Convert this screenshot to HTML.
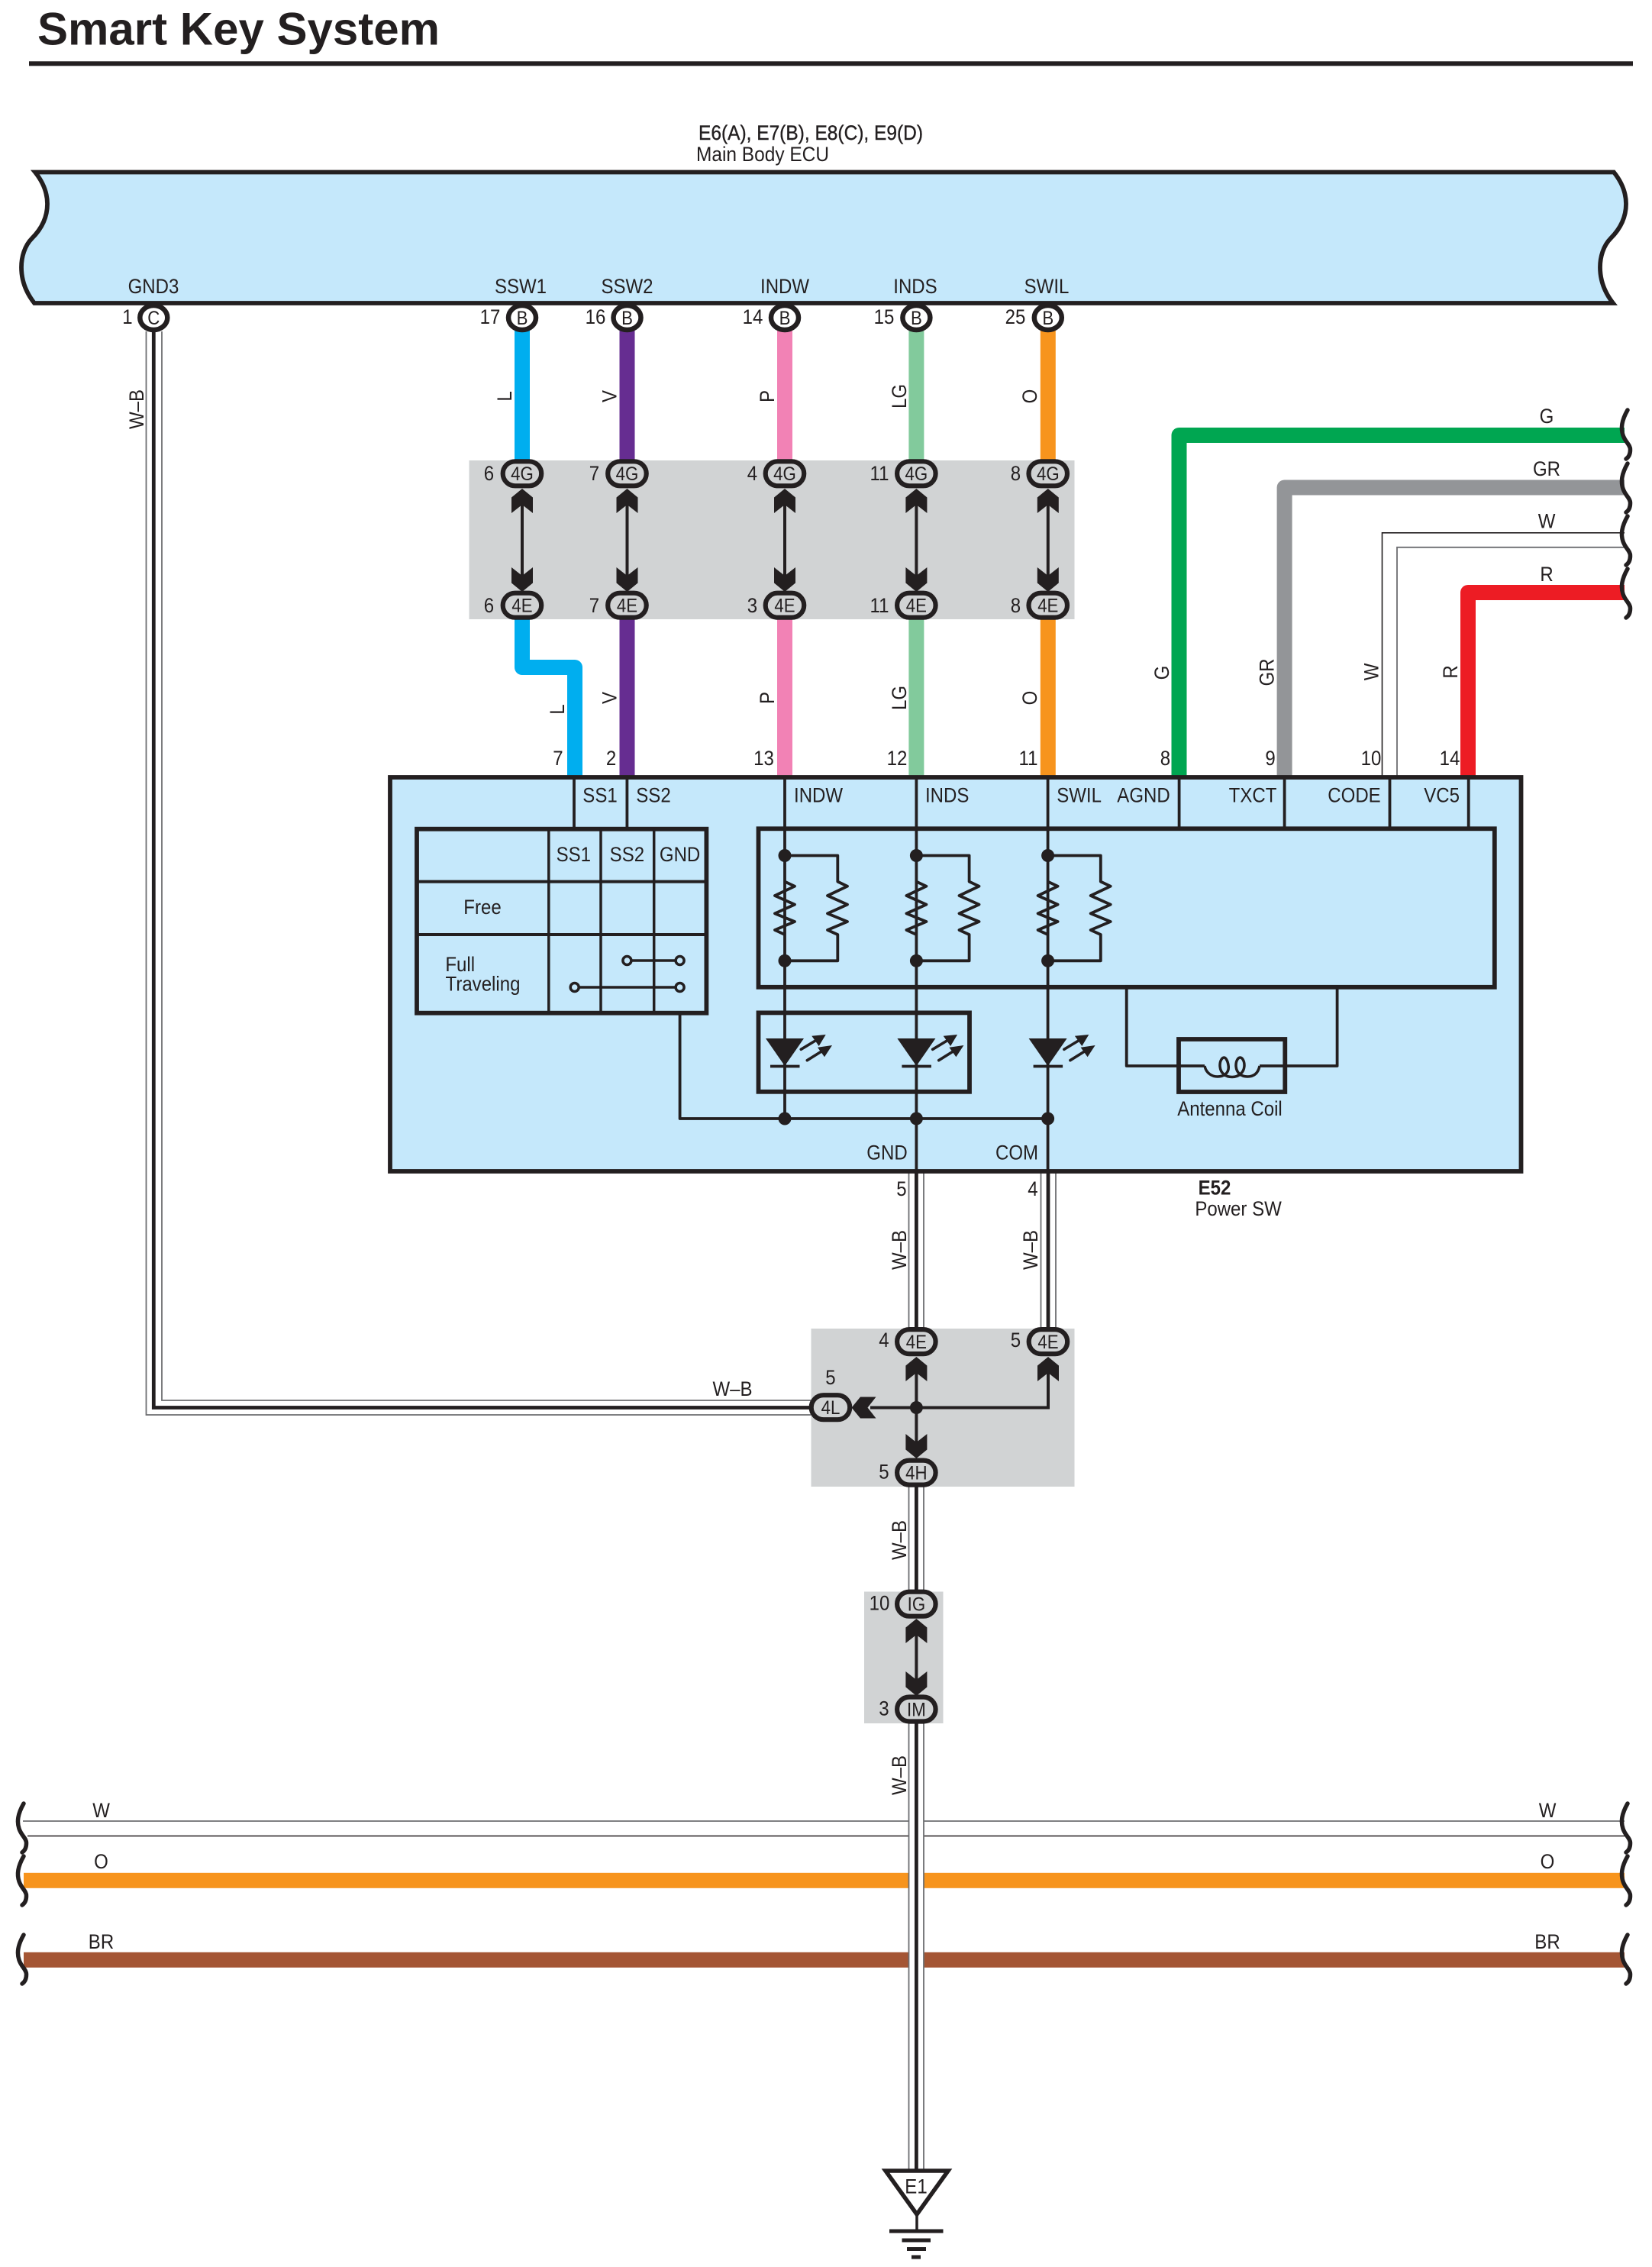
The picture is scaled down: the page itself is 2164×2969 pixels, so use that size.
<!DOCTYPE html>
<html><head><meta charset="utf-8"><title>Smart Key System</title>
<style>
html,body{margin:0;padding:0;background:#fff}
svg{display:block}
text{font-family:"Liberation Sans",sans-serif;font-size:27px;fill:#231f20;text-anchor:middle}
.t text,text.t{transform-box:fill-box;transform-origin:center;transform:scaleX(.89)}
.n text{font-size:25px}
.w{fill:none;stroke-width:20;stroke-linejoin:round}
.k{fill:none;stroke:#231f20;stroke-width:3.8;stroke-linejoin:round}
.b{fill:none;stroke:#231f20;stroke-width:5.8;stroke-linejoin:miter}
.c{fill:#d1d3d4;stroke:#231f20;stroke-width:6.2}
.d{fill:#231f20}
.o{fill:none;stroke:#6d6e71;stroke-width:1.8}
.m{fill:none;stroke:#231f20;stroke-width:4.8}
</style></head>
<body>
<svg xmlns="http://www.w3.org/2000/svg" width="2164" height="2969" viewBox="0 0 2164 2969">
<defs>
<path id="au" d="M0,0L14,11.5V32L0,21L-14,32V11.5Z" fill="#231f20"/>
<path id="sq" d="M2132,0C2124,14 2123,24 2126,33C2129,42 2136,46 2135.5,52C2135.5,58 2133,62 2130,64" fill="none" stroke="#231f20" stroke-width="5.5" stroke-linecap="round"/>
<g id="ledarrows">
<path d="M21.3,1374.3L40,1363M29.3,1388.7L48,1377" stroke="#231f20" stroke-width="3.6" stroke-linecap="round" fill="none"/>
<path d="M53.7,1355L35.3,1356.7L44.7,1370ZM62,1369L43,1371.7L52,1384.3Z" fill="#231f20"/>
</g>
</defs>

<!-- title -->
<text x="312.5" y="58.5" style="font-size:60px;font-weight:bold" textLength="527" lengthAdjust="spacingAndGlyphs">Smart Key System</text>
<rect x="38" y="80.3" width="2101" height="6" fill="#231f20"/>

<!-- ECU -->
<text x="1062" y="183" textLength="294" lengthAdjust="spacingAndGlyphs" stroke="#231f20" stroke-width=".4">E6(A), E7(B), E8(C), E9(D)</text>
<text x="999" y="211" textLength="174" lengthAdjust="spacingAndGlyphs">Main Body ECU</text>
<path d="M46,225.5H2114C2124,238 2130,252 2130,267C2130,285 2122,300 2110,312C2100,322 2096,337 2096,350C2096,368 2102,383 2113,397H45C34,383 28,368 28,350C28,337 32,322 42,312C54,300 62,285 62,267C62,252 56,238 46,225.5Z" fill="#c5e8fb" stroke="#231f20" stroke-width="5.8"/>
<g class="t">
<text x="201" y="384">GND3</text><text x="682" y="384">SSW1</text><text x="821.5" y="384">SSW2</text><text x="1028" y="384">INDW</text><text x="1199" y="384">INDS</text><text x="1371" y="384">SWIL</text>
<text x="167" y="424">1</text><text x="642" y="424">17</text><text x="780" y="424">16</text><text x="986" y="424">14</text><text x="1158" y="424">15</text><text x="1330" y="424">25</text>
</g>

<!-- gray blocks -->
<rect x="614.5" y="603" width="793" height="208" fill="#d1d3d4"/>
<rect x="1062.5" y="1740" width="345" height="207" fill="#d1d3d4"/>
<rect x="1132" y="2084.5" width="103.5" height="172.5" fill="#d1d3d4"/>

<!-- colored wires -->
<path class="w" stroke="#00aeef" d="M684,432V605"/>
<path class="w" stroke="#662d91" d="M821.5,432V605"/>
<path class="w" stroke="#f282b5" d="M1028,432V605"/>
<path class="w" stroke="#82ca9c" d="M1200.4,432V605"/>
<path class="w" stroke="#f7941d" d="M1372.8,432V605"/>
<path class="w" stroke="#00aeef" d="M684,808V874H753V1016"/>
<path class="w" stroke="#662d91" d="M821.5,808V1016"/>
<path class="w" stroke="#f282b5" d="M1028,808V1016"/>
<path class="w" stroke="#82ca9c" d="M1200.4,808V1016"/>
<path class="w" stroke="#f7941d" d="M1372.8,808V1016"/>
<path class="w" stroke="#00a651" d="M1544.5,1016V570H2128"/>
<path class="w" stroke="#939598" d="M1682.6,1016V638.5H2128"/>
<path class="w" stroke="#ed1c24" d="M1923,1016V776H2128"/>
<path d="M1810.5,1016V697.8H2128" fill="none" stroke="#231f20" stroke-width="1.6"/>
<path d="M1830,1016V716.8H2131" fill="none" stroke="#6d6e71" stroke-width="1.8"/>
<use href="#sq" y="537"/><use href="#sq" y="607"/><use href="#sq" y="676"/><use href="#sq" y="745"/>
<g class="t">
<text x="2026" y="554">G</text><text x="2026" y="623">GR</text><text x="2026" y="691.5">W</text><text x="2026" y="761">R</text>
</g>

<!-- rails -->
<path d="M30,2385H2128" class="o"/>
<path d="M36,2404.5H2133" fill="none" stroke="#231f20" stroke-width="1.5"/>
<rect x="31" y="2452.8" width="2097" height="20" fill="#f7941d"/>
<rect x="31" y="2556.8" width="2097" height="20" fill="#a45534"/>
<rect x="1191" y="2380" width="19" height="200" fill="#fff"/>
<use href="#sq" x="-2101" y="2362"/><use href="#sq" x="-2101" y="2431"/><use href="#sq" x="-2101" y="2534"/>
<use href="#sq" y="2362"/><use href="#sq" y="2431"/><use href="#sq" y="2534"/>
<g class="t">
<text x="132.5" y="2380">W</text><text x="132.5" y="2447">O</text><text x="132.5" y="2552">BR</text>
<text x="2027" y="2380">W</text><text x="2027" y="2447">O</text><text x="2027" y="2552">BR</text>
</g>

<!-- W-B wires -->
<path class="o" d="M191.5,434V1853H1062"/>
<path class="o" d="M212,434V1834H1062"/>
<path class="m" d="M201.3,434V1843.5H1062"/>
<path class="o" d="M1190.5,1534V1740M1210,1534V1740M1190.5,1946V2085M1210,1946V2085M1190.5,2257V2841M1210,2257V2841"/>
<path class="m" d="M1200.4,1534V1740M1200.4,1946V2085M1200.4,2257V2841"/>
<path class="o" d="M1363.5,1534V1740M1383,1534V1740"/>
<path class="m" d="M1373,1534V1740"/>

<!-- pin circles -->
<g fill="#fff" stroke="#231f20" stroke-width="6.5">
<ellipse cx="201.3" cy="416" rx="18" ry="16"/><ellipse cx="684" cy="416" rx="18" ry="16"/><ellipse cx="821.5" cy="416" rx="18" ry="16"/><ellipse cx="1028" cy="416" rx="18" ry="16"/><ellipse cx="1200.4" cy="416" rx="18" ry="16"/><ellipse cx="1372.8" cy="416" rx="18" ry="16"/>
</g>
<g class="t n">
<text x="201.3" y="425">C</text><text x="684" y="425">B</text><text x="821.5" y="425">B</text><text x="1028" y="425">B</text><text x="1200.4" y="425">B</text><text x="1372.8" y="425">B</text>
</g>

<!-- double-arrow links -->
<g stroke="#231f20" stroke-width="4" fill="none">
<path d="M684,650V765M821.5,650V765M1028,650V765M1200.4,650V765M1372.8,650V765"/>
<path d="M1140,1843.5H1373V1790M1200.4,1790V1900M1200.4,2130V2210"/>
</g>
<g>
<use href="#au" x="684" y="640"/><use href="#au" x="821.5" y="640"/><use href="#au" x="1028" y="640"/><use href="#au" x="1200.4" y="640"/><use href="#au" x="1372.8" y="640"/>
<use href="#au" transform="translate(684,775) scale(1,-1)"/><use href="#au" transform="translate(821.5,775) scale(1,-1)"/><use href="#au" transform="translate(1028,775) scale(1,-1)"/><use href="#au" transform="translate(1200.4,775) scale(1,-1)"/><use href="#au" transform="translate(1372.8,775) scale(1,-1)"/>
<use href="#au" x="1200.4" y="1777"/><use href="#au" x="1373" y="1777"/>
<use href="#au" transform="translate(1200.4,1910) scale(1,-1)"/>
<use href="#au" transform="translate(1115.5,1843.5) rotate(-90)"/>
<use href="#au" x="1200.4" y="2120"/>
<use href="#au" transform="translate(1200.4,2221) scale(1,-1)"/>
</g>
<circle class="d" cx="1200.4" cy="1843.5" r="8.5"/>

<!-- connectors -->
<g class="c">
<rect x="658.7" y="604.3" width="50.5" height="32" rx="16"/><rect x="796.2" y="604.3" width="50.5" height="32" rx="16"/><rect x="1002.7" y="604.3" width="50.5" height="32" rx="16"/><rect x="1175.1" y="604.3" width="50.5" height="32" rx="16"/><rect x="1347.5" y="604.3" width="50.5" height="32" rx="16"/>
<rect x="658.7" y="776.7" width="50.5" height="32" rx="16"/><rect x="796.2" y="776.7" width="50.5" height="32" rx="16"/><rect x="1002.7" y="776.7" width="50.5" height="32" rx="16"/><rect x="1175.1" y="776.7" width="50.5" height="32" rx="16"/><rect x="1347.5" y="776.7" width="50.5" height="32" rx="16"/>
<rect x="1175.1" y="1741.1" width="50.5" height="32" rx="16"/><rect x="1347.7" y="1741.1" width="50.5" height="32" rx="16"/>
<rect x="1062.7" y="1827.2" width="50.5" height="32" rx="16"/>
<rect x="1175.1" y="1912.6" width="50.5" height="32" rx="16"/>
<rect x="1175.1" y="2084.7" width="50.5" height="32" rx="16"/>
<rect x="1175.1" y="2222.5" width="50.5" height="32" rx="16"/>
</g>
<g class="t n">
<text x="684" y="629">4G</text><text x="821.5" y="629">4G</text><text x="1028" y="629">4G</text><text x="1200.4" y="629">4G</text><text x="1372.8" y="629">4G</text>
<text x="684" y="801.5">4E</text><text x="821.5" y="801.5">4E</text><text x="1028" y="801.5">4E</text><text x="1200.4" y="801.5">4E</text><text x="1372.8" y="801.5">4E</text>
<text x="1200.4" y="1766">4E</text><text x="1373" y="1766">4E</text><text x="1088" y="1852">4L</text><text x="1200.4" y="1937.5">4H</text><text x="1200.4" y="2109.5">IG</text><text x="1200.4" y="2247.5">IM</text>
</g>
<g class="t">
<text x="640.5" y="629">6</text><text x="778.5" y="629">7</text><text x="985.5" y="629">4</text><text x="1152" y="629">11</text><text x="1330.5" y="629">8</text>
<text x="640.5" y="802">6</text><text x="778.5" y="802">7</text><text x="985.5" y="802">3</text><text x="1152" y="802">11</text><text x="1330.5" y="802">8</text>
<text x="1158" y="1764">4</text><text x="1330.5" y="1764">5</text><text x="1088" y="1813">5</text><text x="1158" y="1936.5">5</text><text x="1152" y="2108.5">10</text><text x="1158" y="2246.5">3</text>
<text x="959.5" y="1828">W–B</text>
</g>

<!-- vertical labels -->
<g class="t">
<g transform="rotate(-90 188 536)"><text x="188" y="536">W–B</text></g>
<g transform="rotate(-90 670 519)"><text x="670" y="519">L</text></g>
<g transform="rotate(-90 807.5 519)"><text x="807.5" y="519">V</text></g>
<g transform="rotate(-90 1014 519)"><text x="1014" y="519">P</text></g>
<g transform="rotate(-90 1187 519)"><text x="1187" y="519">LG</text></g>
<g transform="rotate(-90 1358 519)"><text x="1358" y="519">O</text></g>
<g transform="rotate(-90 739 929)"><text x="739" y="929">L</text></g>
<g transform="rotate(-90 807.5 914)"><text x="807.5" y="914">V</text></g>
<g transform="rotate(-90 1014 914)"><text x="1014" y="914">P</text></g>
<g transform="rotate(-90 1187 914)"><text x="1187" y="914">LG</text></g>
<g transform="rotate(-90 1358 914)"><text x="1358" y="914">O</text></g>
<g transform="rotate(-90 1531 881)"><text x="1531" y="881">G</text></g>
<g transform="rotate(-90 1668.5 880.5)"><text x="1668.5" y="880.5">GR</text></g>
<g transform="rotate(-90 1805.5 880)"><text x="1805.5" y="880">W</text></g>
<g transform="rotate(-90 1909 880)"><text x="1909" y="880">R</text></g>
<g transform="rotate(-90 1187 1637)"><text x="1187" y="1637">W–B</text></g>
<g transform="rotate(-90 1359 1637)"><text x="1359" y="1637">W–B</text></g>
<g transform="rotate(-90 1187 2017)"><text x="1187" y="2017">W–B</text></g>
<g transform="rotate(-90 1187 2325)"><text x="1187" y="2325">W–B</text></g>
<text x="731" y="1002">7</text><text x="800.5" y="1002">2</text><text x="1000.5" y="1002">13</text><text x="1175" y="1002">12</text><text x="1347" y="1002">11</text><text x="1526.5" y="1002">8</text><text x="1664" y="1002">9</text><text x="1796" y="1002">10</text><text x="1899" y="1002">14</text>
</g>

<!-- Power SW -->
<rect x="511" y="1018" width="1481.5" height="516" fill="#c5e8fb" stroke="#231f20" stroke-width="5.8"/>
<g class="k">
<path d="M752,1018V1086M821.4,1018V1086M1028,1018V1465M1200.4,1018V1534M1372.6,1018V1534M1544.6,1018V1086M1682.6,1018V1086M1820.5,1018V1086M1923.7,1018V1086"/>
<path d="M890.6,1327V1465H1372.6"/>
<path d="M1475.7,1293V1396H1578M1751.6,1293V1396H1650"/>
</g>
<!-- table -->
<rect class="b" x="546" y="1085.7" width="379.4" height="241"/>
<path fill="none" stroke="#231f20" stroke-width="4" d="M546,1154.6H925.4M546,1224H925.4"/>
<path fill="none" stroke="#231f20" stroke-width="3.5" d="M718.8,1085.7V1326.7M787,1085.7V1326.7M856.7,1085.7V1326.7"/>
<path fill="none" stroke="#231f20" stroke-width="3.5" d="M821.4,1258H890.6M752.7,1293H890.6"/>
<g fill="#c5e8fb" stroke="#231f20" stroke-width="3.5">
<circle cx="821.4" cy="1258" r="5.5"/><circle cx="890.6" cy="1258" r="5.5"/><circle cx="752.7" cy="1293" r="5.5"/><circle cx="890.6" cy="1293" r="5.5"/>
</g>
<!-- boxes -->
<rect class="b" x="993.5" y="1085.3" width="964.3" height="207.5"/>
<rect class="b" x="993.5" y="1326.4" width="276.5" height="103.4"/>
<rect class="b" x="1544" y="1361" width="139.3" height="69"/>
<path fill="none" stroke="#231f20" stroke-width="3.5" d="M1578,1396C1580,1406 1588,1410 1595,1410C1602,1410 1611,1406 1609,1395C1608,1388 1605,1385 1603.5,1385C1601,1385 1598,1389 1598,1395C1598,1406 1606,1410.5 1614,1410.5C1622,1410.5 1630,1405 1630,1395C1630,1389 1627,1385 1624.5,1385C1622,1385 1619,1389 1619,1395C1619,1406 1627,1410 1634,1410C1642,1410 1648,1406 1650,1396"/>
<!-- resistors -->
<g class="k">
<path d="M1028,1120.5H1097.3V1154.6L1110,1160.7L1084,1173L1110,1184.6L1084,1196.4L1110,1207L1084,1218L1097.3,1224V1258.3H1028"/>
<path d="M1028,1154.6L1041,1160.7L1015,1173L1041,1184.6L1015,1196.4L1041,1207L1015,1218L1028,1224"/>
<path d="M1200.4,1120.5H1269.6V1154.6L1282.5,1160.7L1256.5,1173L1282.5,1184.6L1256.5,1196.4L1282.5,1207L1256.5,1218L1269.6,1224V1258.3H1200.4"/>
<path d="M1200.4,1154.6L1213.4,1160.7L1187.4,1173L1213.4,1184.6L1187.4,1196.4L1213.4,1207L1187.4,1218L1200.4,1224"/>
<path d="M1372.6,1120.5H1441.8V1154.6L1454.7,1160.7L1428.7,1173L1454.7,1184.6L1428.7,1196.4L1454.7,1207L1428.7,1218L1441.8,1224V1258.3H1372.6"/>
<path d="M1372.6,1154.6L1385.6,1160.7L1359.6,1173L1385.6,1184.6L1359.6,1196.4L1385.6,1207L1359.6,1218L1372.6,1224"/>
</g>
<g class="d">
<circle cx="1028" cy="1120.5" r="8.5"/><circle cx="1028" cy="1258.3" r="8.5"/><circle cx="1200.4" cy="1120.5" r="8.5"/><circle cx="1200.4" cy="1258.3" r="8.5"/><circle cx="1372.6" cy="1120.5" r="8.5"/><circle cx="1372.6" cy="1258.3" r="8.5"/>
<circle cx="1028" cy="1465" r="8.5"/><circle cx="1200.4" cy="1465" r="8.5"/><circle cx="1372.6" cy="1465" r="8.5"/>
</g>
<!-- LEDs -->
<path class="d" d="M1003,1360H1053L1028,1396Z"/>
<path d="M1009,1396.5H1047.5" stroke="#231f20" stroke-width="3.8"/>
<use href="#ledarrows" x="1028"/>
<path class="d" d="M1175.4,1360H1225.4L1200.4,1396Z"/>
<path d="M1181.4,1396.5H1219.9" stroke="#231f20" stroke-width="3.8"/>
<use href="#ledarrows" x="1200.4"/>
<path class="d" d="M1347.6,1360H1397.6L1372.6,1396Z"/>
<path d="M1353.6,1396.5H1392.1" stroke="#231f20" stroke-width="3.8"/>
<use href="#ledarrows" x="1372.6"/>

<!-- Power SW text -->
<g class="t">
<text x="786" y="1050.5">SS1</text><text x="856" y="1050.5">SS2</text><text x="1072" y="1050.5">INDW</text><text x="1240.7" y="1050.5">INDS</text><text x="1413.6" y="1050.5">SWIL</text><text x="1498" y="1050.5">AGND</text><text x="1641" y="1050.5">TXCT</text><text x="1774" y="1050.5">CODE</text><text x="1888.6" y="1050.5">VC5</text>
<text x="751.3" y="1128">SS1</text><text x="821.4" y="1128">SS2</text><text x="890.6" y="1128">GND</text>
<text x="632" y="1197">Free</text><text x="602.7" y="1272">Full</text><text x="632.5" y="1297.5">Traveling</text>
<text x="1162" y="1518.5">GND</text><text x="1332" y="1518.5">COM</text>
<text x="1611" y="1461">Antenna Coil</text>
<text x="1591" y="1564.5" style="font-weight:bold">E52</text>
<text x="1622" y="1592">Power SW</text>
<text x="1181" y="1566">5</text><text x="1353" y="1566">4</text>
</g>

<!-- ground -->
<path d="M1160,2843H1242L1201,2900Z" fill="#fff" stroke="#231f20" stroke-width="5.5" stroke-linejoin="miter"/>
<text class="t" x="1200" y="2872.5">E1</text>
<path d="M1201,2900V2922" stroke="#231f20" stroke-width="3.5"/>
<g class="d">
<rect x="1165" y="2919.5" width="70.5" height="5"/><rect x="1181.5" y="2931.5" width="37.5" height="5"/><rect x="1188" y="2943" width="25" height="5"/><rect x="1194" y="2953.5" width="12" height="5"/>
</g>
</svg>
</body></html>
